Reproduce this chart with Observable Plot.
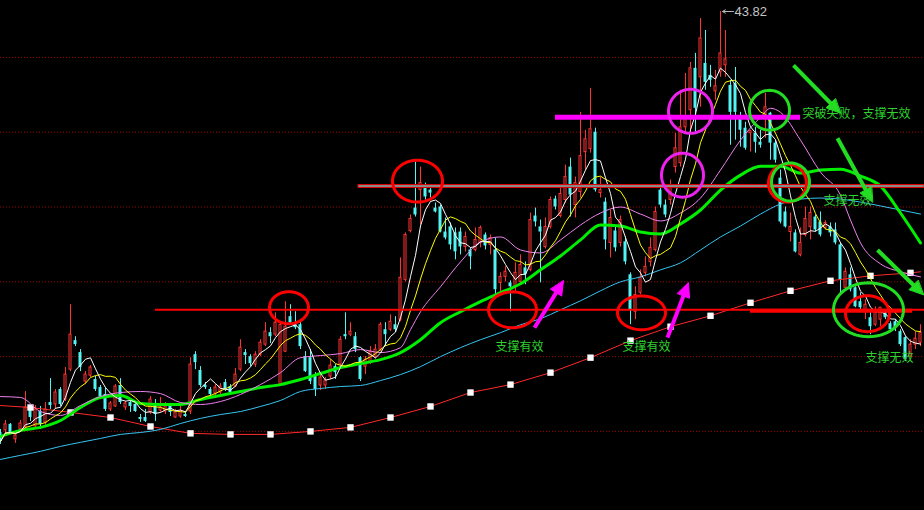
<!DOCTYPE html>
<html><head><meta charset="utf-8">
<script src="https://cdn.jsdelivr.net/npm/d3@7"></script>
<script src="https://cdn.jsdelivr.net/npm/@observablehq/plot@0.6"></script>
<style>html,body{margin:0;padding:0;background:#000;overflow:hidden}svg{display:block}</style>
</head><body><div id="chart"></div>
<script>
// ---- daily candles (index 0..184) ----
const opens = [15.68,15.82,16.22,15.22,15.88,16.02,17.22,16.08,17.08,16.35,17.68,17.55,18.55,17.88,19.88,21.82,21.02,19.08,19.48,19.22,18.68,18.22,17.22,17.42,18.82,17.35,17.68,17.55,16.68,16.68,17.02,17.55,17.15,17.08,17.48,16.68,16.75,16.88,17.08,20.88,19.82,18.82,18.55,18.28,18.35,19.02,18.75,18.75,19.88,21.02,20.75,20.22,20.88,21.55,22.35,22.22,18.88,21.08,23.42,23.02,22.88,20.75,20.68,19.42,18.82,18.82,19.42,20.08,20.22,22.22,22.22,22.08,20.68,20.08,20.35,20.75,21.22,22.55,22.55,22.88,23.22,25.88,29.15,30.68,31.88,32.02,31.88,30.68,30.75,29.08,29.42,29.02,29.08,28.08,27.88,27.88,28.35,28.88,28.22,27.88,25.68,26.08,25.68,25.42,25.75,26.68,26.55,30.15,29.42,28.08,29.42,31.28,30.15,31.22,33.42,30.88,31.75,34.42,34.62,35.75,31.68,31.08,28.35,29.15,28.35,28.42,26.22,23.75,25.02,26.35,27.08,27.88,31.88,30.88,31.22,33.42,33.68,36.08,37.22,40.02,39.42,40.35,39.55,38.48,39.75,40.22,38.88,39.02,36.68,36.02,35.68,35.68,35.08,36.75,37.02,35.02,32.68,30.42,29.08,29.02,27.55,28.88,29.42,30.08,29.75,29.35,29.42,29.22,28.22,25.35,26.22,25.35,24.42,23.75,23.35,22.88,23.22,23.68,22.95,23.08,22.42,22.02,20.75,21.55,21.68];
const highs = [15.88,16.48,16.28,15.68,16.48,18.42,17.42,17.48,17.42,17.68,19.28,18.55,18.68,20.02,24.22,22.08,21.22,19.75,20.15,19.42,18.82,18.68,17.75,18.88,19.28,17.75,17.88,17.68,16.88,17.22,18.08,17.88,18.02,17.68,17.62,17.22,17.42,17.08,20.68,21.08,20.08,19.02,18.68,18.88,18.95,19.22,18.88,19.95,21.88,21.22,20.88,21.08,21.88,23.02,22.68,23.68,23.08,24.42,24.22,23.75,23.08,21.08,21.22,19.68,19.68,19.35,20.55,20.22,22.08,23.68,23.02,22.35,20.75,20.75,21.42,21.55,23.02,23.02,23.55,23.42,27.35,29.02,30.22,33.75,33.42,32.35,32.02,31.02,30.88,30.02,29.68,29.35,29.35,29.08,28.02,29.35,29.48,29.02,28.88,28.68,26.35,26.75,25.82,27.02,27.55,27.08,30.35,30.68,29.88,30.02,31.42,31.48,32.08,33.55,34.02,32.75,37.08,35.88,38.68,36.02,32.75,31.35,30.55,29.48,30.15,28.75,26.35,25.42,26.55,27.42,28.68,30.75,32.22,31.22,32.55,35.68,38.55,39.68,40.42,41.02,43.35,42.55,40.22,39.88,43.82,42.55,39.22,40.08,37.08,36.42,35.88,36.08,35.88,38.35,37.08,35.22,33.22,30.75,30.35,29.22,29.35,30.75,30.75,30.22,30.42,29.82,29.68,29.68,28.35,26.68,26.68,25.42,25.02,24.55,23.88,24.08,24.02,23.88,23.08,23.22,22.55,22.08,21.88,22.42,22.88];
const lows = [14.88,15.42,15.55,14.95,15.75,15.88,16.42,15.88,15.88,16.08,17.22,17.22,17.42,17.75,19.75,21.42,19.75,18.88,19.35,18.42,17.88,17.08,17.08,17.35,17.55,17.15,17.02,17.02,16.35,16.35,16.88,16.42,17.02,16.88,16.75,16.62,16.62,16.68,16.88,19.88,18.68,18.55,18.02,18.08,18.22,18.42,18.22,18.68,19.75,20.22,20.08,20.02,20.75,21.42,21.62,22.08,18.75,21.02,22.88,22.55,21.22,19.68,18.88,18.08,18.48,18.55,19.22,19.22,20.08,21.88,22.08,21.02,19.08,19.55,20.22,20.62,21.08,21.42,22.42,22.35,23.08,25.75,29.02,30.08,29.55,31.22,31.35,30.35,29.02,28.55,27.88,27.22,27.55,27.75,26.55,27.75,28.02,27.88,27.55,24.75,25.02,25.75,23.75,25.08,25.62,25.55,26.42,29.42,25.68,27.95,29.28,30.55,30.02,31.02,30.08,30.02,31.35,33.22,34.35,31.75,31.35,27.88,27.35,27.75,28.08,26.88,22.88,23.22,24.88,26.08,26.75,27.75,30.68,30.02,30.88,33.02,33.42,35.75,35.75,35.75,37.42,38.55,38.75,37.88,39.42,39.42,34.88,35.22,34.75,34.55,34.42,34.35,34.68,35.35,33.88,33.68,29.62,29.35,28.42,27.68,27.42,28.75,28.55,29.08,28.75,29.22,28.75,28.22,25.02,25.22,25.08,24.02,23.75,23.22,22.22,22.75,22.75,23.22,22.35,22.42,21.42,20.42,20.68,21.22,21.42];
const closes = [15.08,16.22,15.68,15.48,16.28,17.35,16.68,17.22,16.22,17.22,17.48,18.35,17.55,19.55,22.22,21.55,20.02,19.55,20.02,18.55,18.08,17.22,17.62,18.75,17.68,17.62,17.42,17.08,16.55,16.42,17.88,16.88,17.35,17.42,17.02,17.02,17.08,16.75,20.22,20.35,18.82,18.68,18.22,18.68,18.75,18.55,18.35,19.55,21.35,20.82,20.28,20.88,21.68,22.42,22.08,23.02,22.88,22.75,23.02,22.68,21.42,19.75,19.08,18.55,19.35,19.15,20.15,19.68,21.88,22.08,22.42,21.22,19.22,20.55,21.08,21.22,22.88,22.22,23.08,22.55,26.02,28.88,29.95,30.22,32.35,31.42,31.68,30.42,29.08,28.68,28.22,27.75,28.08,28.75,27.42,28.55,29.35,28.15,28.68,25.22,26.08,26.42,25.42,26.35,26.88,26.22,29.88,29.75,29.08,29.42,31.22,30.75,31.62,32.75,31.55,32.35,34.15,35.28,35.95,31.88,31.88,28.55,30.02,28.02,29.88,27.08,23.88,24.88,26.02,26.75,28.02,30.42,30.88,30.22,32.08,34.68,36.08,36.68,40.02,37.35,42.02,39.08,39.22,38.82,41.02,40.62,37.08,37.08,35.88,34.68,35.82,35.08,34.88,37.42,35.02,33.88,29.75,29.42,29.42,27.75,28.35,29.95,30.35,29.22,28.88,29.68,29.02,28.35,25.88,26.42,25.22,24.08,24.02,24.22,22.75,23.68,24.02,23.35,22.55,22.68,21.55,20.55,21.55,21.95,22.35];

// ---- longer moving averages ----
const ma20Idx = [0,4,8,12,16,20,24,28,32,36,40,44,48,52,56,60,64,68,72,76,80,82,84,88,92,96,100,104,108,112,116,120,124,128,132,136,140,144,148,152,154,156,160,164,168,170,172,176,180,184];
const ma20 = [18.08,18.02,17.08,16.82,17.48,18.08,18.35,18.42,18.28,17.68,17.55,17.75,18.22,18.88,19.68,20.68,20.82,20.95,21.22,21.02,21.35,22.55,23.75,25.42,27.08,28.42,28.75,27.88,27.68,28.55,29.55,30.35,30.75,30.28,29.82,30.35,31.35,33.22,35.22,36.75,37.35,37.08,35.22,33.08,31.55,29.88,28.35,26.95,26.42,26.08];
const maStepIdx = d3.range(0, 185, 4);
const ma60 = [15.42,15.82,16.02,16.48,17.35,18.02,18.15,17.62,17.55,17.55,17.88,18.15,18.42,18.68,18.88,19.22,19.62,20.02,20.28,20.55,21.02,21.88,23.02,23.75,24.42,25.02,25.62,26.55,27.48,28.55,29.55,29.48,29.08,28.95,29.62,30.55,31.88,32.88,33.48,33.48,33.02,33.22,33.28,32.82,32.15,30.35,28.35];
const ma120 = [13.88,14.15,14.42,14.75,15.02,15.28,15.55,15.68,15.88,16.28,16.62,16.88,17.08,17.42,17.82,18.42,18.62,18.75,18.82,19.15,19.55,20.08,20.75,21.35,21.88,22.35,22.88,23.28,23.88,24.48,25.15,25.75,26.08,26.55,27.02,27.88,28.75,29.48,30.28,30.95,31.28,31.35,31.28,31.08,30.82,30.55,30.28];
const ma250Idx = [0,6,14,22,30,38,46,54,62,70,78,86,94,102,110,118,126,134,142,150,158,166,174,182,184];
const ma250 = [17.48,17.35,17.02,16.68,16.08,15.62,15.55,15.55,15.75,16.02,16.68,17.42,18.35,18.88,19.68,20.68,21.82,22.75,23.48,24.35,25.15,25.82,26.15,26.35,26.42];

const gridPrices = [40.75, 35.75, 30.75, 25.75, 20.75, 15.75];

// ---- annotations (candle index, price) ----
const refLineY = [23.88, 23.82, 36.75];
const refLineX1 = [31, 150, 111];
const refLineX2 = [184.8, 182.4, 160];
const refLineColor = ["#ff0000", "#ff0000", "#ff00ff"];
const refLineWidth = [2, 4, 5];
const bandX = [71.6, 184.8], bandY = [32.02, 32.22];

const ellCX = [57.7, 83.4, 102.4, 128.2, 157.4, 173.4, 138, 136.4, 153.8, 158, 173.6];
const ellCY = [24.02, 32.48, 23.88, 23.68, 32.35, 23.62, 37.15, 32.88, 37.22, 32.42, 23.88];
const ellRX = [3.9, 5.0, 4.8, 4.8, 3.8, 4.4, 4.4, 4.2, 4.0, 3.8, 7.0];
const ellRY = [1.07, 1.4, 1.2, 1.13, 1.27, 1.2, 1.47, 1.47, 1.33, 1.27, 1.8];
const ellColor = ["#ff0000","#ff0000","#ff0000","#ff0000","#ff0000","#ff0000","#ee22ee","#ee22ee","#22dd22","#22dd22","#22dd22"];

const arrowX1 = [106.8, 133.4, 158.6, 167.4, 175.4];
const arrowY1 = [22.68, 22.02, 40.22, 35.35, 27.88];
const arrowX2 = [112.6, 137.6, 168.0, 174.4, 184.6];
const arrowY2 = [25.82, 25.68, 37.02, 31.08, 24.88];
const arrowColor = ["#ff00ff", "#ff00ff", "#22dd22", "#22dd22", "#22dd22"];

const noteText = ["支撑有效", "支撑有效", "支撑无效", "支撑无效"];
const noteX = [103.8, 129.2, 169.4, 177.8];
const noteY = [21.35, 21.35, 31.15, 20.62];
const headline = {text: "突破失败，支撑无效", x: 160.4, y: 36.95};
const peak = {text: "43.82", x: 146.8, y: 43.82, from: 146.6, to: 144.4};

// ---- build ----
const W = 924, H = 510;
const xDomain = [0, 184.8], yDomain = [10.464, 44.555];
const pxI = W / (xDomain[1] - xDomain[0]);
const pxP = H / (yDomain[1] - yDomain[0]);
const RED = "#ff3333", CYAN = "#54f4f4", GREEN_TXT = "#2fd02f";

const candles = closes.map((c, i) => ({i, open: opens[i], high: highs[i], low: lows[i], close: c, up: c >= opens[i]}));
const ma20Data = ma20Idx.map((i, k) => ({i, v: ma20[k]}));
const ma60Data = maStepIdx.map((i, k) => ({i, v: ma60[k]}));
const ma120Data = maStepIdx.map((i, k) => ({i, v: ma120[k]}));
const ma250Data = ma250Idx.map((i, k) => ({i, v: ma250[k]}));

const ellPts = [];
ellCX.forEach((cx, k) => {
  for (let s = 0; s <= 72; s++) {
    const t = s / 72 * 2 * Math.PI;
    ellPts.push({k, x: cx + ellRX[k] * Math.cos(t), y: ellCY[k] + ellRY[k] * Math.sin(t), c: ellColor[k]});
  }
});

const shafts = [], heads = [];
arrowX1.forEach((x1, k) => {
  const dx = (arrowX2[k] - x1) * pxI, dy = -(arrowY2[k] - arrowY1[k]) * pxP;
  const len = Math.hypot(dx, dy), ux = dx / len, uy = dy / len;
  const L = 14, Wd = 13, nx = -uy, ny = ux;
  const toData = (ox, oy) => [arrowX2[k] + ox / pxI, arrowY2[k] - oy / pxP];
  const b = toData(-ux * L * 0.7, -uy * L * 0.7);
  shafts.push({x1, y1: arrowY1[k], x2: b[0], y2: b[1], c: arrowColor[k]});
  const pts = [[0, 0], [-ux * L + nx * Wd / 2, -uy * L + ny * Wd / 2], [-ux * L - nx * Wd / 2, -uy * L - ny * Wd / 2]];
  pts.forEach(([ox, oy]) => { const p = toData(ox, oy); heads.push({k, x: p[0], y: p[1], c: arrowColor[k]}); });
});

const notes = noteText.map((t, k) => ({t, x: noteX[k], y: noteY[k]}));

const chart = Plot.plot({
  width: W, height: H, margin: 0,
  x: {domain: xDomain, axis: null},
  y: {domain: yDomain, axis: null},
  color: {type: "identity"},
  style: {background: "#000", overflow: "hidden"},
  marks: [
    Plot.ruleY(gridPrices, {stroke: "#a00000", strokeDasharray: "1,2"}),
    Plot.ruleX(candles, {x: "i", y1: "low", y2: "high", stroke: d => d.up ? RED : CYAN}),
    Plot.rect(candles.filter(d => !d.up), {x1: d => d.i - 0.3, x2: d => d.i + 0.3, y1: "open", y2: "close", fill: CYAN}),
    Plot.rect(candles.filter(d => d.up), {x1: d => d.i - 0.2, x2: d => d.i + 0.2, y1: "open", y2: "close", fill: "#000", stroke: RED, strokeWidth: 1}),
    Plot.line(ma250Data, {x: "i", y: "v", stroke: "#ff2a2a", strokeWidth: 1}),
    Plot.dot(ma250Data.slice(1, -1), {x: "i", y: "v", symbol: "square", r: 3.6, fill: "#fff", stroke: "none"}),
    Plot.line(ma120Data, {x: "i", y: "v", stroke: "#36c6f2", strokeWidth: 1, curve: "monotone-x"}),
    Plot.line(ma60Data, {x: "i", y: "v", stroke: "#00ee00", strokeWidth: 3, curve: "monotone-x"}),
    Plot.line(ma20Data, {x: "i", y: "v", stroke: "#ee82ee", strokeWidth: 1, curve: "monotone-x"}),
    Plot.lineY(candles, Plot.windowY({k: 10, anchor: "end", reduce: "mean"}, {x: "i", y: "close", stroke: "#ffff00", strokeWidth: 1})),
    Plot.lineY(candles, Plot.windowY({k: 5, anchor: "end", reduce: "mean"}, {x: "i", y: "close", stroke: "#ffffff", strokeWidth: 1})),
    Plot.rect([0], {x1: bandX[0], x2: bandX[1], y1: bandY[0], y2: bandY[1], fill: "#8a8a8a", stroke: "#e00000", strokeWidth: 1}),
    ...refLineY.map((y, k) => Plot.ruleY([y], {x1: refLineX1[k], x2: refLineX2[k], stroke: refLineColor[k], strokeWidth: refLineWidth[k]})),
    Plot.line(ellPts, {x: "x", y: "y", z: "k", stroke: "c", strokeWidth: 3, curve: "linear-closed"}),
    Plot.link(shafts, {x1: "x1", y1: "y1", x2: "x2", y2: "y2", stroke: "c", strokeWidth: 4}),
    Plot.line(heads, {x: "x", y: "y", z: "k", fill: "c", stroke: "c", strokeWidth: 1, curve: "linear-closed"}),
    Plot.text(notes, {x: "x", y: "y", text: "t", fill: GREEN_TXT, fontSize: 12, fontFamily: "Noto Sans CJK SC", textAnchor: "middle"}),
    Plot.text([headline], {x: "x", y: "y", text: "text", fill: GREEN_TXT, fontSize: 12, fontFamily: "Noto Sans CJK SC", textAnchor: "start"}),
    Plot.arrow([peak], {x1: "from", y1: "y", x2: "to", y2: "y", stroke: "#b8b8b8", strokeWidth: 1, headLength: 5}),
    Plot.text([peak], {x: "x", y: "y", text: "text", fill: "#c4c4c4", fontSize: 13, fontFamily: "Liberation Sans, Arial, sans-serif", textAnchor: "start"})
  ]
});
document.getElementById("chart").appendChild(chart);
</script>
</body></html>
